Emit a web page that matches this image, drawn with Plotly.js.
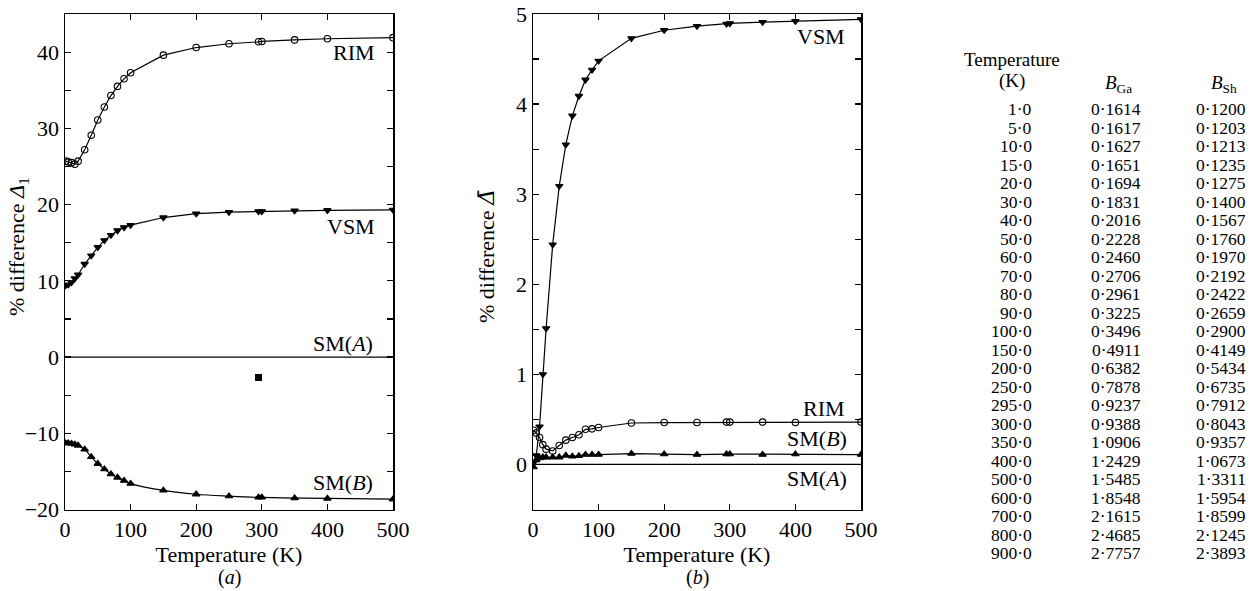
<!DOCTYPE html>
<html>
<head>
<meta charset="utf-8">
<script src="https://cdn.plot.ly/plotly-3.0.1.min.js"></script>
<style>
  html, body { margin: 0; padding: 0; background: #fff; }
  #chart { width: 1251px; height: 591px; }
</style>
</head>
<body>
<div id="chart"></div>
<script>
// Temperatures (K) at which the percentage differences were evaluated
const temps = [1, 5, 10, 15, 20, 30, 40, 50, 60, 70, 80, 90, 100, 150, 200, 250, 295, 300, 350, 400, 500];

// (a) % difference Δ1 relative to SM(A)
const rimA  = [25.7, 25.6, 25.5, 25.3, 25.7, 27.2, 29.1, 31.1, 32.8, 34.3, 35.5, 36.5, 37.3, 39.6, 40.6, 41.1, 41.35, 41.4, 41.6, 41.75, 41.9];
const vsmA  = [9.4, 9.5, 9.8, 10.3, 10.8, 12.2, 13.3, 14.4, 15.3, 16.0, 16.6, 17.0, 17.3, 18.3, 18.8, 19.0, 19.1, 19.1, 19.2, 19.25, 19.3];
const smAA  = [0, 0, 0, 0, 0, 0, 0, 0, 0, 0, 0, 0, 0, 0, 0, 0, 0, 0, 0, 0, 0];
const smBA  = [-11.3, -11.3, -11.35, -11.45, -11.6, -12.1, -13.1, -14.0, -14.7, -15.35, -15.8, -16.2, -16.6, -17.5, -18.0, -18.25, -18.4, -18.4, -18.5, -18.55, -18.65];
const expT  = [295];
const expA  = [-2.7];

// (b) % difference Δ̄ relative to SM(A)
const vsmB  = [0.02, 0.1, 0.42, 1.0, 1.51, 2.44, 3.09, 3.55, 3.87, 4.09, 4.27, 4.38, 4.48, 4.73, 4.82, 4.865, 4.89, 4.895, 4.91, 4.92, 4.94];
const rimB  = [0.38, 0.35, 0.30, 0.22, 0.17, 0.15, 0.21, 0.27, 0.30, 0.33, 0.39, 0.395, 0.41, 0.46, 0.465, 0.465, 0.47, 0.47, 0.47, 0.465, 0.47];
const smBB  = [-0.03, 0.05, 0.07, 0.08, 0.08, 0.08, 0.08, 0.10, 0.09, 0.095, 0.11, 0.11, 0.11, 0.12, 0.115, 0.11, 0.115, 0.115, 0.11, 0.115, 0.11];
const smAB  = [0, 0, 0, 0, 0, 0, 0, 0, 0, 0, 0, 0, 0, 0, 0, 0, 0, 0, 0, 0, 0];

// Debye–Waller B factors for the two atoms
const tableT   = [1, 5, 10, 15, 20, 30, 40, 50, 60, 70, 80, 90, 100, 150, 200, 250, 295, 300, 350, 400, 500, 600, 700, 800, 900];
const tableBGa = [0.1614, 0.1617, 0.1627, 0.1651, 0.1694, 0.1831, 0.2016, 0.2228, 0.2460, 0.2706, 0.2961, 0.3225, 0.3496, 0.4911, 0.6382, 0.7878, 0.9237, 0.9388, 1.0906, 1.2429, 1.5485, 1.8548, 2.1615, 2.4685, 2.7757];
const tableBSh = [0.1200, 0.1203, 0.1213, 0.1235, 0.1275, 0.1400, 0.1567, 0.1760, 0.1970, 0.2192, 0.2422, 0.2659, 0.2900, 0.4149, 0.5434, 0.6735, 0.7912, 0.8043, 0.9357, 1.0673, 1.3311, 1.5954, 1.8599, 2.1245, 2.3893];

const W = 1251, H = 591;
const FONT = 'Liberation Serif, Times New Roman, serif';
const INK = '#000';
const FS = 22;

function series(x, y, xa, ya, symbol, shape) {
  return {
    x: x, y: y, xaxis: xa, yaxis: ya, type: 'scatter', mode: 'lines+markers',
    line: { color: INK, width: 1.2, shape: shape || 'linear', smoothing: 1 },
    marker: { symbol: symbol, size: 6.5, color: INK, line: { color: INK, width: 1.1 } },
    hoverinfo: 'skip', showlegend: false
  };
}
function plainLine(x, y, xa, ya) {
  return { x: x, y: y, xaxis: xa, yaxis: ya, type: 'scatter', mode: 'lines',
           line: { color: INK, width: 1.3 }, hoverinfo: 'skip', showlegend: false };
}

const traces = [
  series(temps, rimA, 'x', 'y', 'circle-open'),
  series(temps, vsmA, 'x', 'y', 'triangle-down'),
  plainLine(temps, smAA, 'x', 'y'),
  series(temps, smBA, 'x', 'y', 'triangle-up', 'spline'),
  { x: expT, y: expA, xaxis: 'x', yaxis: 'y', type: 'scatter', mode: 'markers',
    marker: { symbol: 'square', size: 7, color: INK }, hoverinfo: 'skip', showlegend: false },

  series(temps, vsmB, 'x2', 'y2', 'triangle-down'),
  series(temps, rimB, 'x2', 'y2', 'circle-open'),
  series(temps, smBB, 'x2', 'y2', 'triangle-up'),
  plainLine(temps, smAB, 'x2', 'y2')
];

// pixel helpers for layout placement
const px = v => v / W;
const py = v => 1 - v / H;

const axisCommon = {
  showline: true, linecolor: INK, linewidth: 1.5, mirror: 'allticks',
  ticks: 'inside', ticklen: 6, tickwidth: 1.2, tickcolor: INK,
  showgrid: false, zeroline: false, fixedrange: true,
  tickfont: { family: FONT, size: FS, color: INK }
};
const xTitle = { text: 'Temperature (K)', font: { family: FONT, size: FS, color: INK }, standoff: 0 };

const layout = {
  width: W, height: H,
  margin: { l: 0, r: 0, t: 0, b: 0 },
  paper_bgcolor: '#fff', plot_bgcolor: '#fff',
  font: { family: FONT, color: INK },
  showlegend: false,
  xaxis: Object.assign({}, axisCommon, {
    domain: [px(65), px(393)], range: [0, 500], tickvals: [0, 100, 200, 300, 400, 500],
    anchor: 'y', title: xTitle
  }),
  yaxis: Object.assign({}, axisCommon, {
    domain: [py(509.5), py(14)], range: [-20, 45], tickvals: [-20, -10, 0, 10, 20, 30, 40],
    minor: { tickvals: [-15, -5, 5, 15, 25, 35], ticks: 'inside', ticklen: 6, tickcolor: INK, tickwidth: 1.2 },
    anchor: 'x'
  }),
  xaxis2: Object.assign({}, axisCommon, {
    domain: [px(533), px(861)], range: [0, 500], tickvals: [0, 100, 200, 300, 400, 500],
    anchor: 'y2', title: xTitle
  }),
  yaxis2: Object.assign({}, axisCommon, {
    domain: [py(509.5), py(14)], range: [-0.5, 5], tickvals: [0, 1, 2, 3, 4, 5],
    minor: { tickvals: [-0.5, 0.5, 1.5, 2.5, 3.5, 4.5], ticks: 'inside', ticklen: 6, tickcolor: INK, tickwidth: 1.2 },
    anchor: 'x2'
  }),
  annotations: []
};

const ann = layout.annotations;
function label(text, x, y, xref, yref, opts) {
  ann.push(Object.assign({
    text: text, x: x, y: y, xref: xref, yref: yref, showarrow: false,
    xanchor: 'right', yanchor: 'middle',
    font: { family: FONT, size: FS, color: INK }
  }, opts || {}));
}

// vertical axis titles, set beside the tick numbers
label('% difference <i>Δ</i><sub>1</sub>', px(18), py(247), 'paper', 'paper', { xanchor: 'center', textangle: -90 });
label('% difference <i><span style="font-family:\'DejaVu Serif\'">Δ̄</span></i>', px(486), py(256), 'paper', 'paper', { xanchor: 'center', textangle: -90 });

// curve names, panel (a)
label('RIM', 476, 39.9, 'x', 'y');
label('VSM', 476, 17.1, 'x', 'y');
label('SM(<i>A</i>)', 473, 1.8, 'x', 'y');
label('SM(<i>B</i>)', 473, -16.5, 'x', 'y');
// curve names, panel (b)
label('VSM', 478, 4.75, 'x2', 'y2');
label('RIM', 478, 0.62, 'x2', 'y2');
label('SM(<i>B</i>)', 482, 0.29, 'x2', 'y2');
label('SM(<i>A</i>)', 482, -0.155, 'x2', 'y2');

// panel captions
label('(<i>a</i>)', px(229), py(577), 'paper', 'paper', { xanchor: 'center', font: { family: FONT, size: 20, color: INK } });
label('(<i>b</i>)', px(697), py(577), 'paper', 'paper', { xanchor: 'center', font: { family: FONT, size: 20, color: INK } });

// table of B factors
const tfont = { family: FONT, size: 17.5, color: INK };
const hfont = { family: FONT, size: 19, color: INK };
const fmt = (v, d) => v.toFixed(d).replace('.', '·');
label('Temperature', px(1012), py(60), 'paper', 'paper', { xanchor: 'center', font: hfont });
label('(K)', px(1012), py(81), 'paper', 'paper', { xanchor: 'center', font: hfont });
label('<i>B</i><sub>Ga</sub>', px(1118), py(84), 'paper', 'paper', { xanchor: 'center', font: hfont });
label('<i>B</i><sub>Sh</sub>', px(1224), py(84), 'paper', 'paper', { xanchor: 'center', font: hfont });
const rowTop = 109, rowStep = 18.52;
tableT.forEach((t, i) => {
  const yy = py(rowTop + i * rowStep);
  label(fmt(t, 1), px(1034), yy, 'paper', 'paper', { font: tfont });
  label(fmt(tableBGa[i], 4), px(1143), yy, 'paper', 'paper', { font: tfont });
  label(fmt(tableBSh[i], 4), px(1248), yy, 'paper', 'paper', { font: tfont });
});

Plotly.newPlot('chart', traces, layout, { staticPlot: true, displayModeBar: false });
</script>
</body>
</html>
